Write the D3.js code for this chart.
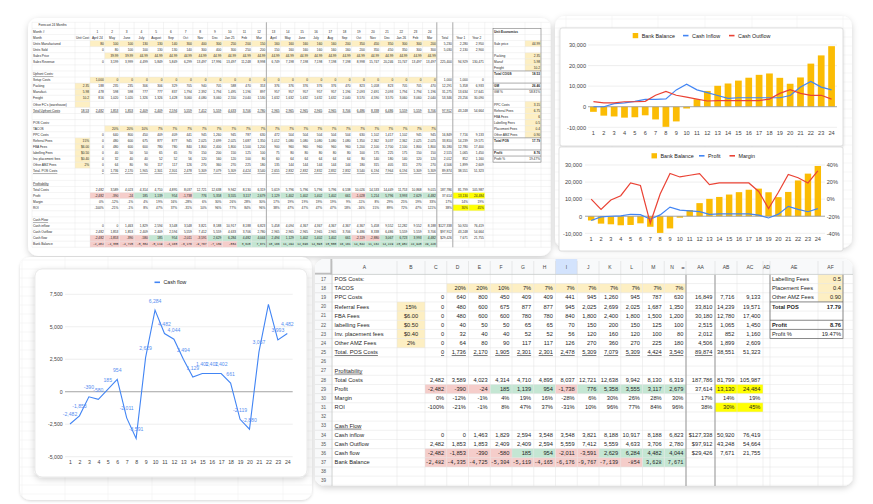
<!DOCTYPE html>
<html>
<head>
<meta charset="utf-8">
<script src="https://cdn.jsdelivr.net/npm/d3@7/dist/d3.min.js"></script>
<style>
html,body{margin:0;padding:0;background:#ffffff;}
svg{display:block;}
</style>
</head>
<body>
<svg id="root" width="873" height="504"></svg>
<script>
// ================= DATA =================
const monthNums = [1,2,3,4,5,6,7,8,9,10,11,12,13,14,15,16,17,18,19,20,21,22,23,24];
const monthNames = ["April 24","May","June","July","August","Sep","Oct","Nov","Dec","Jan 25","Feb","Mar","April","May","June","July","Aug","Sep","Oct","Nov","Dec","Jan 26","Feb","Mar"];
const totalHeaders = ["Total","Year 1","Year 2"];

const unitsManufactured = [80,100,100,130,130,140,300,400,300,250,200,150,160,160,160,160,160,200,350,450,350,300,300,200];
const unitsManufacturedTotals = [5230,2280,2950];
const unitsSold = [0,80,100,100,130,130,140,300,400,300,250,200,150,160,160,160,160,160,200,350,450,350,300,300];
const unitsSoldTotals = [5030,2130,2900];
const salesPrice = [null,39.99,39.99,44.99,44.99,44.99,44.99,44.99,44.99,44.99,44.99,44.99,44.99,44.99,44.99,44.99,44.99,44.99,44.99,44.99,44.99,44.99,44.99,44.99];
const salesRevenue = [0,3199,3999,4499,5849,5849,6299,13497,17996,13497,11248,8998,6749,7198,7198,7198,7198,7198,8998,15747,20246,15747,13497,13497];
const salesRevenueTotals = [225400,94929,130471];

const setupCosts = [1000,0,0,0,0,0,0,0,0,0,0,0,0,0,0,0,0,0,0,0,0,0,0,0];
const setupCostsTotals = [1000,1000,0];
const packingUnit = 2.35, manufactUnit = 5.98, freightUnit = 10.2, upfrontUnit = 18.53;
const packingCosts = [188,235,235,306,306,329,705,940,705,588,470,353,376,376,376,376,376,470,823,1058,823,705,705,470];
const packingTotals = [12291,5358,6933];
const manufactCosts = [478,598,598,777,777,837,1794,2392,1794,1495,1196,897,957,957,957,957,957,1196,2093,2691,2093,1794,1794,1196];
const manufactTotals = [31275,13634,17641];
const freightCosts = [816,1020,1020,1326,1326,1428,3060,4080,3060,2550,2040,1530,1632,1632,1632,1632,1632,2040,3570,4590,3570,3060,3060,2040];
const freightTotals = [53346,23256,30090];
const totalUpfrontCosts = [2482,1853,1853,2409,2409,2594,5559,7412,5559,4633,3706,2780,2965,2965,2965,2965,2965,3706,6486,8338,6486,5559,5559,3706];
const totalUpfrontTotals = [97912,43248,54664];

const tacos = [null,0.20,0.20,0.10,0.07,0.07,0.07,0.07,0.07,0.07,0.07,0.07,0.07,0.07,0.07,0.07,0.07,0.07,0.07,0.07,0.07,0.07,0.07,0.07];
const referralRate = 0.15, fbaUnit = 6, labellingUnit = 0.5, placementUnit = 0.4, otherAmzRate = 0.02;
const ppcCosts = [0,640,800,450,409,409,441,945,1260,945,787,630,472,504,504,504,504,504,630,1102,1417,1102,945,945];
const ppcTotals = [16849,7716,9133];
const referralFees = [0,480,600,675,877,877,945,2025,2699,2025,1687,1350,1012,1080,1080,1080,1080,1080,1350,2362,3037,2362,2025,2025];
const referralTotals = [33810,14239,19571];
const fbaFees = [0,480,600,600,780,780,840,1800,2400,1800,1500,1200,900,960,960,960,960,960,1200,2100,2700,2100,1800,1800];
const fbaTotals = [30180,12780,17400];
const labellingFees = [0,40,50,50,65,65,70,150,200,150,125,100,75,80,80,80,80,80,100,175,225,175,150,150];
const labellingTotals = [2515,1065,1450];
const placementFees = [0,32,40,40,52,52,56,120,160,120,100,80,60,64,64,64,64,64,80,140,180,140,120,120];
const placementTotals = [2012,852,1160];
const otherAmzFees = [0,64,80,90,117,117,126,270,360,270,225,180,135,144,144,144,144,144,180,315,405,315,270,270];
const otherAmzTotals = [4506,1899,2609];
const totalPosCosts = [0,1736,2170,1905,2301,2301,2478,5309,7079,5309,4424,3540,2655,2832,2832,2832,2832,2832,3540,6194,7964,6194,5309,5309];
const totalPosTotals = [89874,38551,51323];

const totalCosts = [2482,3589,4023,4314,4710,4895,8037,12721,12638,9942,8130,6319,5619,5796,5796,5796,5796,6538,10026,14533,14449,11753,10868,9015];
const totalCostsTotals = [187786,81799,105987];
const profit = [-2482,-390,-24,185,1139,954,-1738,776,5358,3555,3117,2679,1129,1402,1402,1402,1402,661,-1028,1214,5796,3993,2629,4482];
const profitTotals = [37614,13130,24484];
const margin = [0,-0.12,-0.01,0.04,0.19,0.16,-0.28,0.06,0.30,0.26,0.28,0.30,0.17,0.19,0.19,0.19,0.19,0.09,-0.11,0.08,0.29,0.25,0.19,0.33];
const marginTotals = [0.17,0.14,0.19];
const roi = [-1.00,-0.21,-0.01,0.08,0.47,0.37,-0.31,0.10,0.96,0.77,0.84,0.96,0.38,0.47,0.47,0.47,0.47,0.18,-0.16,0.15,0.89,0.72,0.47,1.21];
const roiTotals = [0.38,0.30,0.45];

const cashInflow = [0,0,1463,1829,2594,3548,3548,3821,8188,10917,8188,6823,5458,4094,4367,4367,4367,4367,4367,5458,9552,12282,9552,8188];
const cashInflowTotals = [127338,50920,76419];
const cashOutflow = [2482,1853,1853,2409,2409,2594,5559,7412,5559,4633,3706,2780,2965,2965,2965,2965,2965,3706,6486,8338,6486,5559,5559,3706];
const cashOutflowTotals = [97912,43248,54664];
const cashFlow = [-2482,-1853,-390,-580,185,954,-2011,-3591,2629,6284,4482,4044,2494,1129,1402,1402,1402,661,-2119,-2880,3067,6723,3993,4482];
const cashFlowTotals = [29426,7671,21755];
const bankBalance = [-2482,-4335,-4725,-5304,-5119,-4165,-6176,-9767,-7139,-854,3628,7671,10166,11294,12696,14098,15500,16161,14042,11162,14229,20952,24945,29426];

// Unit economics side table (sheet row, label, shown value)
const ueRowNums = [2,4,6,7,8,9,11,12,14,15,16,17,18,19,20,22,23];
const ueLabels = ["Unit Economics","Sale price","Packing","Manuf","Freight","Total COGS","GM","GM %","PPC Costs","Referral Fees","FBA Fees","Labelling Fees","Placement Fees","Other AMZ Fees","Total POS","Profit","Profit %"];
const ueValues = ["","44.99","2.35","5.98","10.2","18.53","26.46","58.81%","3.15","6.75","6","0.5","0.4","0.90","17.79","8.76","19.47%"];
const ueBold = ["Unit Economics","Total COGS","GM","Total POS","Profit"];
const ueInput = ["Sale price","Packing","Manuf","Freight","PPC Costs","Referral Fees","FBA Fees","Labelling Fees","Placement Fees","Other AMZ Fees"];

// chart ticks
const balanceTicks = [-10000,0,10000,20000,30000];
const marginTicks = [-0.4,-0.2,0,0.2,0.4];
const cashFlowTicks = [-5000,-2500,0,2500,5000,7500];
const cashFlowHiddenLabels = [22];

// column letters of the zoomed sheet
const colLetters = ["A","B","C","D","E","F","G","H","I","J","K","L","M","N","AA","AB","AC","AD","AE","AF",""];

// ================= SETUP =================
const FONT = "Arial, 'Liberation Sans', Helvetica, sans-serif";
const MONO = "'Liberation Mono','DejaVu Sans Mono',monospace";
const loc = d3.formatLocale({decimal:".", thousands:",", grouping:[3], currency:["$",""], minus:"-"});
const fInt = loc.format(",.0f"), fPct = loc.format(".0%"), f2 = loc.format(".2f"), fUsd = loc.format("$,.0f"), fUsd2 = loc.format("$.2f");
const YEL = "#fdefc3", RED = "#f5cdca", GRN = "#c4e6d3", BYEL = "#ffff00";
const BLUE = "#4285f4", REDL = "#ea4335", GOLD = "#fbbc04";
const sign = a => a.map(v => v < 0 ? RED : GRN);
const same = (c, a) => a.map(() => c);
const opt = a => a.map(v => v == null ? null : YEL);

const svg = d3.select("#root").attr("font-family", FONT);
const defs = svg.append("defs");
const fsh = defs.append("filter").attr("id","sh").attr("x","-10%").attr("y","-10%").attr("width","120%").attr("height","125%");
fsh.append("feDropShadow").attr("dx",0).attr("dy",2).attr("stdDeviation",3).attr("flood-color","#000").attr("flood-opacity",0.18);
const fsm = defs.append("filter").attr("id","shs").attr("x","-5%").attr("y","-5%").attr("width","110%").attr("height","115%");
fsm.append("feDropShadow").attr("dx",0).attr("dy",1).attr("stdDeviation",1.5).attr("flood-color","#000").attr("flood-opacity",0.16);

function card(x,y,w,h,rx,filter){
  return svg.append("rect").attr("x",x).attr("y",y).attr("width",w).attr("height",h).attr("rx",rx)
    .attr("fill","#fff").attr("filter", filter ? `url(#${filter})` : null);
}
function clip(id,x,y,w,h,rx){
  defs.append("clipPath").attr("id",id).append("rect").attr("x",x).attr("y",y).attr("width",w).attr("height",h).attr("rx",rx);
  return svg.append("g").attr("clip-path",`url(#${id})`);
}

// shared row definitions (sheet row numbers)
const rowDefs = [
  {r:1, label:"Forecast 24 Months", ind:5.5},
  {r:2, label:"Month #", vals:monthNums.map(String), mid:true},
  {r:3, label:"Month", unit:"Unit Cost", umid:true, vals:monthNames, mid:true, tot:totalHeaders, totMid:true},
  {r:4, label:"Units Manufactured", vals:unitsManufactured.map(fInt), vbg:same(YEL,unitsManufactured), tot:unitsManufacturedTotals.map(fInt)},
  {r:5, label:"Units Sold", vals:unitsSold.map(fInt), tot:unitsSoldTotals.map(fInt)},
  {r:6, label:"Sales Price", vals:salesPrice.map(v => v == null ? "" : f2(v)), vbg:opt(salesPrice)},
  {r:7, label:"Sales Revenue", vals:salesRevenue.map(fInt), tot:salesRevenueTotals.map(fInt)},
  {r:9, label:"Upfront Costs:", lul:true},
  {r:10, label:"Setup Costs", vals:setupCosts.map(fInt), vbg:same(YEL,setupCosts), tot:setupCostsTotals.map(fInt)},
  {r:11, label:"Packing", unit:f2(packingUnit), ubg:YEL, vals:packingCosts.map(fInt), tot:packingTotals.map(fInt)},
  {r:12, label:"Manufact.", unit:f2(manufactUnit), ubg:YEL, vals:manufactCosts.map(fInt), tot:manufactTotals.map(fInt)},
  {r:13, label:"Freight", unit:String(freightUnit), ubg:YEL, vals:freightCosts.map(fInt), tot:freightTotals.map(fInt)},
  {r:14, label:"Other FC's (warehouse)", unit:"", ubg:YEL},
  {r:15, label:"Total Upfront Costs", lul:true, unit:f2(upfrontUnit), uul:true, vals:totalUpfrontCosts.map(fInt), vul:true, tot:totalUpfrontTotals.map(fInt), tul:[true,false,false]},
  {r:17, label:"POS Costs:"},
  {r:18, label:"TACOS", vals:tacos.map(v => v == null ? "" : fPct(v)), vbg:opt(tacos)},
  {r:19, label:"PPC Costs", vals:ppcCosts.map(fInt), tot:ppcTotals.map(fInt)},
  {r:20, label:"Referral Fees", unit:fPct(referralRate), ubg:YEL, vals:referralFees.map(fInt), tot:referralTotals.map(fInt)},
  {r:21, label:"FBA Fees", unit:fUsd2(fbaUnit), ubg:YEL, vals:fbaFees.map(fInt), tot:fbaTotals.map(fInt)},
  {r:22, label:"labelling Fees", unit:fUsd2(labellingUnit), ubg:YEL, vals:labellingFees.map(fInt), tot:labellingTotals.map(fInt)},
  {r:23, label:"Inv. placement fees", unit:fUsd2(placementUnit), ubg:YEL, vals:placementFees.map(fInt), tot:placementTotals.map(fInt)},
  {r:24, label:"Other AMZ Fees", unit:fPct(otherAmzRate), ubg:YEL, vals:otherAmzFees.map(fInt), tot:otherAmzTotals.map(fInt)},
  {r:25, label:"Total. POS Costs", lul:true, vals:totalPosCosts.map(fInt), vul:true, tot:totalPosTotals.map(fInt), tul:[true,false,false]},
  {r:27, label:"Profitability", lul:true},
  {r:28, label:"Total Costs", vals:totalCosts.map(fInt), tot:totalCostsTotals.map(fInt)},
  {r:29, label:"Profit", vals:profit.map(fInt), vbg:sign(profit), tot:profitTotals.map(fInt), tbg:[null,BYEL,BYEL]},
  {r:30, label:"Margin", vals:margin.map(fPct), tot:marginTotals.map(fPct)},
  {r:31, label:"ROI", vals:roi.map(fPct), tot:roiTotals.map(fPct), tbg:[null,BYEL,BYEL]},
  {r:33, label:"Cash Flow", lul:true},
  {r:34, label:"Cash inflow", vals:cashInflow.map(fInt), tot:[fUsd(cashInflowTotals[0]), fInt(cashInflowTotals[1]), fInt(cashInflowTotals[2])]},
  {r:35, label:"Cash Outflow", vals:cashOutflow.map(fInt), tot:[fUsd(cashOutflowTotals[0]), fInt(cashOutflowTotals[1]), fInt(cashOutflowTotals[2])]},
  {r:36, label:"Cash flow", vals:cashFlow.map(fInt), vbg:sign(cashFlow), tot:[fUsd(cashFlowTotals[0]), fInt(cashFlowTotals[1]), fInt(cashFlowTotals[2])]},
  {r:37, label:"Bank Balance", vals:bankBalance.map(fInt), vbg:sign(bankBalance), mono:true}
];

function buildCells(rows, rowGeom, colA, colB, monthCol, nMonths, totCol, unitAlign){
  const cells = [];
  rows.forEach(d => {
    const g = rowGeom(d.r), y = g.y, h = g.h;
    if (d.label) cells.push({x:colA.x, w:colA.w, y, h, text:d.label, align:"start", ul:d.lul, ind:d.ind || 0});
    if (d.unit !== undefined) cells.push({x:colB.x, w:colB.w, y, h, text:d.unit, align:d.umid ? "middle" : unitAlign, bg:d.ubg, ul:d.uul});
    if (d.vals) for (let m = 1; m <= nMonths; m++) {
      const c = monthCol(m);
      cells.push({x:c.x, w:c.w, y, h, text:d.vals[m-1], align:d.mid ? "middle" : "end", bg:d.vbg ? d.vbg[m-1] : null, ul:d.vul, mono:d.mono});
    }
    if (d.tot) d.tot.forEach((t,i) => {
      const c = totCol(i);
      cells.push({x:c.x, w:c.w, y, h, text:t, align:d.totMid ? "middle" : "end", bg:d.tbg ? d.tbg[i] : null, ul:d.tul ? d.tul[i] : false});
    });
  });
  return cells;
}
function drawBg(g, cells){
  g.append("g").selectAll("rect").data(cells.filter(c => c.bg)).join("rect")
    .attr("x", c => c.x).attr("y", c => c.y).attr("width", c => c.w).attr("height", c => c.h).attr("fill", c => c.bg);
}
function drawText(g, cells, fs, monoFs, pad){
  g.append("g").selectAll("text").data(cells.filter(c => c.text)).join("text")
    .attr("x", c => c.align === "start" ? c.x + pad + (c.ind || 0) : c.align === "middle" ? c.x + c.w/2 : c.x + c.w - pad)
    .attr("y", c => c.y + c.h/2 + (c.mono ? monoFs : fs) * 0.36)
    .attr("text-anchor", c => c.align)
    .attr("font-size", c => c.mono ? monoFs : fs)
    .attr("font-family", c => c.mono ? MONO : FONT)
    .attr("font-weight", c => c.bold ? "bold" : null)
    .attr("text-decoration", c => c.ul ? "underline" : null)
    .attr("fill", "#1f1f1f")
    .text(c => c.text);
}
function hLines(g, ys, x1, x2, color, w){
  g.append("g").selectAll("line").data(ys).join("line")
    .attr("x1",x1).attr("x2",x2).attr("y1",d=>d).attr("y2",d=>d).attr("stroke",color).attr("stroke-width",w);
}
function vLines(g, xs, y1, y2, color, w){
  g.append("g").selectAll("line").data(xs).join("line")
    .attr("y1",y1).attr("y2",y2).attr("x1",d=>d).attr("x2",d=>d).attr("stroke",color).attr("stroke-width",w);
}

// ================= CARD 1: full forecast sheet (top-left) =================
card(28,18,523,238,10,"sh");
{
  const g = clip("clipTL",28,18,523,238,10);
  const rowTop = r => 22.3 + (r-1)*6.08, RH = 6.08;
  const rowGeom = r => ({y:rowTop(r), h:RH});
  const colA = {x:32, w:43}, colB = {x:75, w:15};
  const monthCol = m => m <= 12 ? {x:90 + (m-1)*14.7, w:14.7} : {x:266.4 + (m-13)*14.2, w:14.2};
  const totCol = t => ({x:436.8 + t*16, w:16});
  const cells = buildCells(rowDefs, rowGeom, colA, colB, monthCol, 24, totCol, "end");
  // unit economics box
  const ueX = 493, ueW1 = 32, ueW2 = 16;
  const ueCells = [];
  ueRowNums.forEach((r,i) => {
    const b = ueBold.includes(ueLabels[i]);
    ueCells.push({x:ueX, w:ueW1, y:rowTop(r), h:RH, text:ueLabels[i], align:"start", bold:b});
    ueCells.push({x:ueX+ueW1, w:ueW2, y:rowTop(r), h:RH, text:ueValues[i], align:"end", bold:b, bg:ueInput.includes(ueLabels[i]) ? YEL : null});
  });
  drawBg(g, cells); drawBg(g, ueCells);
  const xs = [32,75,90].concat(monthNums.map(m => monthCol(m).x + monthCol(m).w)).concat([452.8,468.8,484.8,493,525,541,551]);
  hLines(g, d3.range(1,39).map(rowTop), 32, 551, "#e4e4e4", 0.4);
  vLines(g, xs, rowTop(1), rowTop(38), "#e4e4e4", 0.4);
  vLines(g, [266.4,436.8,452.8], rowTop(1), rowTop(38), "#a6a6a6", 0.9);
  g.append("rect").attr("x",ueX).attr("y",rowTop(2)).attr("width",ueW1+ueW2).attr("height",rowTop(24)-rowTop(2))
    .attr("fill","none").attr("stroke","#6b6b6b").attr("stroke-width",0.5);
  hLines(g, [9,11,12,20,22,23].map(rowTop), ueX, ueX+ueW1+ueW2, "#6b6b6b", 0.5);
  drawText(g, cells, 3.2, 3.0, 1.0);
  drawText(g, ueCells, 3.2, 3.0, 1.0);
}

// ================= CARD 2: two combo charts (top-right) =================
card(555,16,297,232,10,"sh");
{
  const g = clip("clipTR",555,16,297,232,10);
  vLines(g, [566,612,658,705,752,797,843], 16, 248, "#ececec", 0.5);
  hLines(g, d3.range(0,27).map(i => 19 + i*9), 555, 852, "#ececec", 0.5);
}
function legendSwatch(g, x, y, color, label){
  g.append("rect").attr("x",x).attr("y",y-2.6).attr("width",5.5).attr("height",5.2).attr("fill",color);
  g.append("text").attr("x",x+9).attr("y",y+1.95).attr("font-size",5.4).attr("fill","#222").text(label);
}
function legendLine(g, x, y, color, label){
  g.append("line").attr("x1",x).attr("x2",x+5.5).attr("y1",y).attr("y2",y).attr("stroke",color).attr("stroke-width",1.6);
  g.append("text").attr("x",x+9).attr("y",y+1.95).attr("font-size",5.4).attr("fill","#222").text(label);
}
function styleAxis(a, fs){
  a.attr("font-family", FONT).attr("font-size", fs);
  a.select(".domain").remove();
  a.selectAll("text").attr("fill","#444");
}

// --- chart A: Bank Balance / Cash Inflow / Cash Outflow
{
  const g = svg.append("g");
  g.append("rect").attr("x",560).attr("y",28).attr("width",283).attr("height",118).attr("rx",2)
    .attr("fill","#fff").attr("stroke","#d2d2d2").attr("stroke-width",0.7).attr("filter","url(#shs)");
  const x = d3.scaleBand().domain(monthNums).range([588,837]).paddingInner(0.35).paddingOuter(0.2);
  const y = d3.scaleLinear().domain([-10000,30000]).range([127.3,45]);
  const cx = m => x(m) + x.bandwidth()/2;
  hLines(g, balanceTicks.filter(t => t !== 0).map(y), 588, 837, "#e3e3e3", 0.6);
  g.append("g").selectAll("rect").data(monthNums).join("rect")
    .attr("x", m => x(m)).attr("width", x.bandwidth())
    .attr("y", m => Math.min(y(bankBalance[m-1]), y(0))).attr("height", m => Math.abs(y(bankBalance[m-1]) - y(0)))
    .attr("fill", GOLD);
  hLines(g, [y(0)], 588, 837, "#9a9a9a", 0.9);
  const line = arr => d3.line().x(m => cx(m)).y(m => y(arr[m-1]))(monthNums);
  g.append("path").attr("d", line(cashInflow)).attr("fill","none").attr("stroke",BLUE).attr("stroke-width",1.2);
  g.append("path").attr("d", line(cashOutflow)).attr("fill","none").attr("stroke",REDL).attr("stroke-width",1.2);
  styleAxis(g.append("g").attr("transform","translate(588,0)").call(d3.axisLeft(y).tickValues(balanceTicks).tickSize(0).tickPadding(2).tickFormat(fInt)), 5.6);
  styleAxis(g.append("g").attr("transform","translate(0,127.3)").call(d3.axisBottom(x).tickSize(0).tickPadding(3.4)), 5.6);
  legendSwatch(g, 632.7, 35.6, GOLD, "Bank Balance");
  legendLine(g, 683, 35.6, BLUE, "Cash Inflow");
  legendLine(g, 729, 35.6, REDL, "Cash Outflow");
}

// --- chart B: Bank Balance / Profit / Margin
{
  const g = svg.append("g");
  g.append("rect").attr("x",559).attr("y",147).attr("width",284).attr("height",104).attr("rx",2)
    .attr("fill","#fff").attr("stroke","#d2d2d2").attr("stroke-width",0.7);
  const x = d3.scaleBand().domain(monthNums).range([586,823]).paddingInner(0.35).paddingOuter(0.2);
  const y = d3.scaleLinear().domain([-10000,30000]).range([233.3,165]);
  const yM = d3.scaleLinear().domain([-0.4,0.4]).range([233.3,165]);
  const cx = m => x(m) + x.bandwidth()/2;
  hLines(g, balanceTicks.filter(t => t !== 0).map(y), 585, 825, "#e3e3e3", 0.6);
  g.append("g").selectAll("rect").data(monthNums).join("rect")
    .attr("x", m => x(m)).attr("width", x.bandwidth())
    .attr("y", m => Math.min(y(bankBalance[m-1]), y(0))).attr("height", m => Math.abs(y(bankBalance[m-1]) - y(0)))
    .attr("fill", GOLD);
  hLines(g, [y(0)], 585, 825, "#9a9a9a", 0.9);
  g.append("path").attr("d", d3.line().x(m => cx(m)).y(m => y(profit[m-1]))(monthNums)).attr("fill","none").attr("stroke",BLUE).attr("stroke-width",1.2);
  g.append("path").attr("d", d3.line().x(m => cx(m)).y(m => yM(margin[m-1]))(monthNums)).attr("fill","none").attr("stroke",REDL).attr("stroke-width",1.2);
  styleAxis(g.append("g").attr("transform","translate(585,0)").call(d3.axisLeft(y).tickValues(balanceTicks).tickSize(0).tickPadding(3).tickFormat(fInt)), 5.6);
  styleAxis(g.append("g").attr("transform","translate(825,0)").call(d3.axisRight(yM).tickValues(marginTicks).tickSize(0).tickPadding(1.7).tickFormat(fPct)), 5.6);
  styleAxis(g.append("g").attr("transform","translate(0,233.3)").call(d3.axisBottom(x).tickSize(0).tickPadding(4)), 5.6);
  legendSwatch(g, 651.5, 155.8, GOLD, "Bank Balance");
  legendLine(g, 699, 155.8, BLUE, "Profit");
  legendLine(g, 729.5, 155.8, REDL, "Margin");
}

// ================= CARD 3: Cash flow line chart (bottom-left) =================
card(20,257,292,243,10,"shs");
{
  const g = clip("clipBL",20,257,292,243,10);
  vLines(g, [22,65,108,152,195,238,283], 257, 500, "#ececec", 0.5);
  hLines(g, d3.range(0,28).map(i => 260 + i*9), 20, 312, "#ececec", 0.5);
}
{
  const g = svg.append("g");
  g.append("rect").attr("x",35).attr("y",269).attr("width",272).attr("height",208).attr("rx",7)
    .attr("fill","#fff").attr("stroke","#dcdcdc").attr("stroke-width",0.6).attr("filter","url(#sh)");
  const x = d3.scalePoint().domain(monthNums).range([70,287.3]);
  const y = d3.scaleLinear().domain([-5000,7500]).range([456.7,294.3]);
  hLines(g, cashFlowTicks.filter(t => t !== 0).map(y), 65, 292.7, "#e3e3e3", 0.6);
  hLines(g, [y(0)], 65, 292.7, "#9a9a9a", 0.9);
  g.append("path").attr("d", d3.line().x(m => x(m)).y(m => y(cashFlow[m-1]))(monthNums))
    .attr("fill","none").attr("stroke",BLUE).attr("stroke-width",1.1);
  g.append("g").selectAll("text").data(monthNums.filter(m => !cashFlowHiddenLabels.includes(m))).join("text")
    .attr("x", m => x(m)).attr("y", m => y(cashFlow[m-1]) - 7.5)
    .attr("text-anchor","middle").attr("font-size",5.1).attr("fill","#5a8ff0")
    .text(m => fInt(cashFlow[m-1]));
  styleAxis(g.append("g").attr("transform","translate(65,0)").call(d3.axisLeft(y).tickValues(cashFlowTicks).tickSize(0).tickPadding(2.3).tickFormat(fInt)), 5.2);
  styleAxis(g.append("g").attr("transform","translate(0,456.7)").call(d3.axisBottom(x).tickSize(0).tickPadding(3.9)), 5.2);
  legendLine(g, 154.5, 282.3, BLUE, "Cash flow");
  g.selectAll("text").filter(function(){ return this.textContent === "Cash flow"; }).attr("font-size",5.2);
}

// ================= CARD 4: zoomed sheet rows 17-39 (bottom-right) =================
card(315,259,538,227,10,"sh");
{
  const g = clip("clipBR",315,259,538,227,10);
  const HEAD_T = 259, HEAD_B = 274.4, RH = 9.17;
  const rowTop = r => HEAD_B + (r-17)*RH;
  const rowGeom = r => ({y:rowTop(r), h:RH});
  const colA = {x:332, w:65}, colB = {x:397, w:28};
  const mW = (686-425)/12;
  const monthCol = m => ({x:425 + (m-1)*mW, w:mW});
  const totCols = [{x:686,w:29},{x:715,w:22},{x:737,w:26}];
  const totCol = t => totCols[t];
  const colEdges = [332,397].concat(d3.range(0,13).map(i => 425 + i*mW)).concat([715,737,763,770,818,843,853]);
  const rows = rowDefs.filter(d => d.r >= 17);
  const cells = buildCells(rows, rowGeom, colA, colB, monthCol, 12, totCol, "middle");
  const ueCells = [];
  ueRowNums.forEach((r,i) => {
    if (r < 17) return;
    const b = ueBold.includes(ueLabels[i]);
    ueCells.push({x:770, w:48, y:rowTop(r), h:RH, text:ueLabels[i], align:"start", bold:b});
    ueCells.push({x:818, w:25, y:rowTop(r), h:RH, text:ueValues[i], align:"end", bold:b, bg:ueInput.includes(ueLabels[i]) ? YEL : null});
  });
  drawBg(g, cells); drawBg(g, ueCells);
  hLines(g, d3.range(17,41).map(rowTop), 332, 853, "#e2e2e2", 0.5);
  vLines(g, colEdges, HEAD_B, 490, "#e2e2e2", 0.5);
  vLines(g, [686,715], HEAD_B, 490, "#9e9e9e", 1.1);
  // side box
  g.append("rect").attr("x",770).attr("y",HEAD_B-4).attr("width",73).attr("height",rowTop(24)-HEAD_B+4)
    .attr("fill","none").attr("stroke","#5f5f5f").attr("stroke-width",0.7);
  hLines(g, [20,22,23].map(rowTop), 770, 843, "#5f5f5f", 0.7);
  drawText(g, cells, 5.7, 5.2, 2.6);
  drawText(g, ueCells, 5.7, 5.2, 2.0);
  // header row
  g.append("rect").attr("x",315).attr("y",HEAD_T).attr("width",538).attr("height",HEAD_B-HEAD_T).attr("fill","#f8f9fa");
  const headCols = [{x:332,w:65},{x:397,w:28}].concat(d3.range(0,12).map(i => ({x:425+i*mW, w:mW})))
    .concat([{x:686,w:29},{x:715,w:22},{x:737,w:26},{x:763,w:7},{x:770,w:48},{x:818,w:25},{x:843,w:10}]);
  g.append("rect").attr("x",headCols[8].x).attr("y",HEAD_T).attr("width",headCols[8].w).attr("height",HEAD_B-HEAD_T).attr("fill","#d3e3fd");
  vLines(g, colEdges, HEAD_T+2, HEAD_B, "#d6d6d6", 0.5);
  g.append("g").selectAll("text").data(headCols).join("text")
    .attr("x", (c,i) => i === 13 ? c.x + c.w/2 - 3 : c.x + c.w/2).attr("y", (HEAD_T+HEAD_B)/2 + 2.3)
    .attr("text-anchor","middle").attr("font-size",5).attr("fill","#444")
    .text((c,i) => colLetters[i]);
  g.append("text").attr("x",680.5).attr("y",(HEAD_T+HEAD_B)/2 + 1.8).attr("font-size",3.6).attr("fill","#666").text("◂ ▸");
  hLines(g, [HEAD_B], 315, 853, "#c4c7c5", 0.7);
  // row numbers
  g.append("rect").attr("x",315).attr("y",HEAD_B).attr("width",17).attr("height",490-HEAD_B).attr("fill","#f8f9fa");
  hLines(g, d3.range(17,41).map(rowTop), 315, 332, "#d6d6d6", 0.5);
  g.append("g").selectAll("text").data(d3.range(17,40)).join("text")
    .attr("x",323.5).attr("y", r => rowTop(r) + RH/2 + 1.7).attr("text-anchor","middle").attr("font-size",4.6).attr("fill","#555")
    .text(r => r);
  vLines(g, [332], HEAD_T, 490, "#c4c7c5", 0.7);
  g.append("rect").attr("x",315).attr("y",HEAD_T).attr("width",17).attr("height",HEAD_B-HEAD_T).attr("fill","#f8f9fa");
  g.append("line").attr("x1",315).attr("x2",332).attr("y1",HEAD_B-0.8).attr("y2",HEAD_B-0.8).attr("stroke","#bdbdbd").attr("stroke-width",1.6);
  g.append("line").attr("x1",331.2).attr("x2",331.2).attr("y1",HEAD_T).attr("y2",HEAD_B).attr("stroke","#bdbdbd").attr("stroke-width",1.6);
}
</script>
</body>
</html>
